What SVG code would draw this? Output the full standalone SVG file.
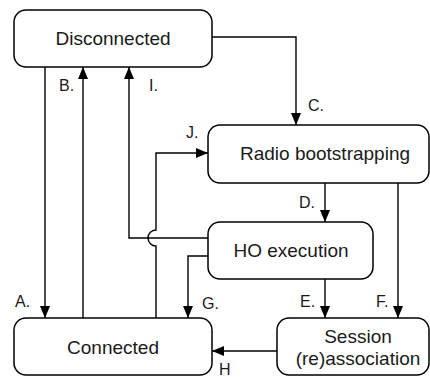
<svg xmlns="http://www.w3.org/2000/svg" width="430" height="377" viewBox="0 0 430 377">
<style>
.box{fill:#fff;stroke:#000;stroke-width:1.5}
.t{font-family:"Liberation Sans",Arial,sans-serif;font-size:19px;fill:#1a1a1a;text-anchor:middle}
.l{font-family:"Liberation Sans",Arial,sans-serif;font-size:16px;fill:#1a1a1a}
.c{fill:none;stroke:#000;stroke-width:1.4}
</style>
<defs>
<marker id="ah" markerUnits="userSpaceOnUse" markerWidth="13" markerHeight="11" refX="12" refY="5" orient="auto">
<path d="M0,0 L12,5 L0,10 z" fill="#000"/>
</marker>
</defs>
<g id="connectors">
<path class="c" d="M45 67 V318" marker-end="url(#ah)"/>
<path class="c" d="M83 318 V67" marker-end="url(#ah)"/>
<path class="c" d="M208 238 H129 V67" marker-end="url(#ah)"/>
<path class="c" d="M156 318 V246 A8 8 0 0 1 156 230 V153 H208" marker-end="url(#ah)"/>
<path class="c" d="M212 37 H296 V125" marker-end="url(#ah)"/>
<path class="c" d="M325 183 V222" marker-end="url(#ah)"/>
<path class="c" d="M398 183 V318" marker-end="url(#ah)"/>
<path class="c" d="M325 279 V318" marker-end="url(#ah)"/>
<path class="c" d="M208 256 H188 V318" marker-end="url(#ah)"/>
<path class="c" d="M277 351 H212" marker-end="url(#ah)"/>
<text class="l" x="15" y="307">A.</text>
<text class="l" x="59" y="91">B.</text>
<text class="l" x="149" y="91">I.</text>
<text class="l" x="186" y="138">J.</text>
<text class="l" x="308" y="111">C.</text>
<text class="l" x="299" y="208">D.</text>
<text class="l" x="300" y="307">E.</text>
<text class="l" x="376" y="307">F.</text>
<text class="l" x="202" y="309">G.</text>
<text class="l" x="219" y="375">H</text>
</g>
<g id="disconnected">
<rect class="box" x="14" y="10" width="198" height="57" rx="12"/>
<text class="t" x="113" y="45">Disconnected</text>
</g>
<g id="radio">
<rect class="box" x="208" y="125" width="221" height="58" rx="12"/>
<text class="t" x="325" y="160">Radio bootstrapping</text>
</g>
<g id="ho">
<rect class="box" x="208" y="222" width="165" height="57" rx="12"/>
<text class="t" x="291" y="257">HO execution</text>
</g>
<g id="connected">
<rect class="box" x="14" y="318" width="198" height="57" rx="12"/>
<text class="t" x="113" y="354">Connected</text>
</g>
<g id="session">
<rect class="box" x="277" y="318" width="152" height="57" rx="12"/>
<text class="t" x="358" y="343">Session</text>
<text class="t" x="358" y="365">(re)association</text>
</g>
</svg>
